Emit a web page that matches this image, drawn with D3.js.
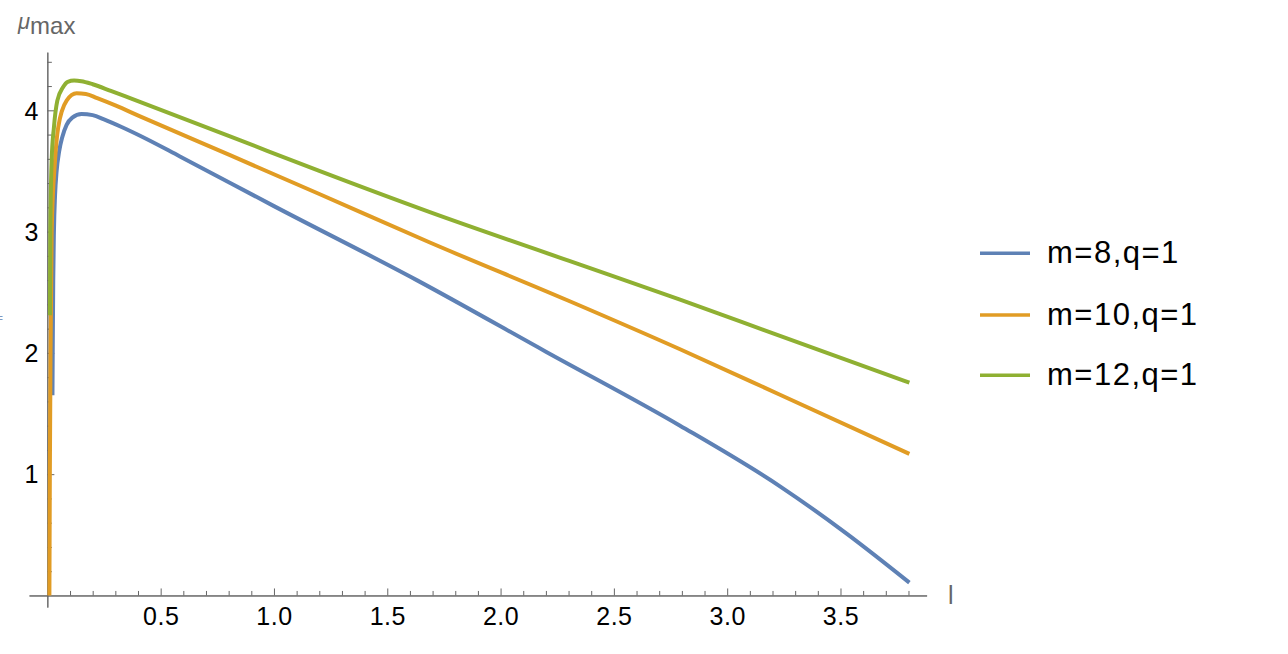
<!DOCTYPE html>
<html>
<head>
<meta charset="utf-8">
<script src="https://cdn.jsdelivr.net/npm/d3@7"></script>
<style>
  html, body { margin: 0; padding: 0; background: #fff; }
  svg { display: block; }
  text { font-family: "Liberation Sans", Arial, sans-serif; }
</style>
</head>
<body>
<svg id="chart" width="1288" height="654"></svg>
<script>
// ---- data ----
const seriesNames = ["m=8,q=1", "m=10,q=1", "m=12,q=1"];
const seriesColors = ["#5E81B5", "#E19C24", "#8FB032"];

const lM8  = [0.0225, 0.024, 0.026, 0.029, 0.034, 0.041, 0.052, 0.066, 0.085, 0.11, 0.151, 0.2, 0.25, 0.33, 0.409, 0.585, 1.0, 1.63, 2.2, 2.792, 3.233, 3.527, 3.804];
const muM8 = [1.65, 2.1, 2.6, 3.0, 3.3, 3.5, 3.66, 3.78, 3.88, 3.94, 3.97, 3.96, 3.925, 3.86, 3.79, 3.62, 3.21, 2.60, 2.01, 1.40, 0.90, 0.51, 0.106];

const lM10  = [0.009, 0.011, 0.014, 0.019, 0.034, 0.048, 0.085, 0.129, 0.17, 0.22, 0.3, 0.409, 0.806, 1.2, 1.688, 2.3, 2.792, 3.233, 3.804];
const muM10 = [0.0, 1.0, 2.0, 3.0, 3.59, 3.86, 4.08, 4.14, 4.135, 4.10, 4.04, 3.95, 3.63, 3.31, 2.91, 2.43, 2.03, 1.655, 1.167];

const lM12  = [0.0115, 0.013, 0.019, 0.029, 0.044, 0.069, 0.09, 0.118, 0.15, 0.2, 0.28, 0.365, 0.806, 1.2, 1.688, 2.3, 2.792, 3.233, 3.804];
const muM12 = [2.31, 3.0, 3.59, 3.86, 4.08, 4.19, 4.235, 4.245, 4.24, 4.215, 4.16, 4.10, 3.785, 3.50, 3.16, 2.76, 2.44, 2.14, 1.754];

const xTicks = [0.5, 1.0, 1.5, 2.0, 2.5, 3.0, 3.5];
const xTickLabels = ["0.5", "1.0", "1.5", "2.0", "2.5", "3.0", "3.5"];
const yTicks = [1, 2, 3, 4];
const yTickLabels = ["1", "2", "3", "4"];
const xMinor = d3.range(1, 39).map(i => i / 10).filter(v => Math.abs(v * 2 - Math.round(v * 2)) > 1e-6);
const yMinor = d3.range(1, 23).map(i => i / 5).filter(v => Math.abs(v - Math.round(v)) > 1e-6);

const xLabel = "l";
const yLabelMain = "μ";
const yLabelSub = "max";

// ---- layout ----
const svg = d3.select("#chart");
const x = d3.scaleLinear().domain([-0.081, 3.88]).range([29, 926.6]);
const y = d3.scaleLinear().domain([-0.096, 4.48]).range([607.1, 52.1]);
const axisColor = "#666";
const x0 = x(0), y0 = y(0);

// x axis
const gx = svg.append("g").attr("transform", `translate(0,${y0})`);
gx.call(d3.axisBottom(x).tickValues(xMinor).tickSizeInner(-4.5).tickSizeOuter(0).tickFormat(""));
const gxM = svg.append("g").attr("transform", `translate(0,${y0})`);
gxM.call(d3.axisBottom(x).tickValues(xTicks).tickSizeInner(-7).tickSizeOuter(0)
  .tickPadding(12).tickFormat((d, i) => xTickLabels[i]));

// y axis
const gy = svg.append("g").attr("transform", `translate(${x0},0)`);
gy.call(d3.axisLeft(y).tickValues(yMinor).tickSizeInner(-4.5).tickSizeOuter(0).tickFormat(""));
const gyM = svg.append("g").attr("transform", `translate(${x0},0)`);
gyM.call(d3.axisLeft(y).tickValues(yTicks).tickSizeInner(-7).tickSizeOuter(0)
  .tickPadding(8.5).tickFormat((d, i) => yTickLabels[i]));

svg.selectAll(".domain, .tick line").attr("stroke", axisColor).attr("stroke-width", 1);
svg.selectAll(".tick text")
  .attr("fill", "#000")
  .style("font-size", "25px")
  .style("font-family", "'Liberation Sans', Arial, sans-serif")
  .style("letter-spacing", "0.5px");
gyM.selectAll(".tick text").attr("dy", "0.35em");

// curves
const seriesData = [
  lM8.map((l, i) => [l, muM8[i]]),
  lM10.map((l, i) => [l, muM10[i]]),
  lM12.map((l, i) => [l, muM12[i]])
];
const line = d3.line().x(d => x(d[0])).y(d => y(d[1])).curve(d3.curveMonotoneX);
seriesData.forEach((data, i) => {
  svg.append("path")
    .datum(data)
    .attr("d", line)
    .attr("fill", "none")
    .attr("stroke", seriesColors[i])
    .attr("stroke-width", 4)
    .attr("stroke-linejoin", "round");
});

// axis labels
svg.append("text")
  .attr("x", 948).attr("y", 603.5)
  .attr("fill", axisColor)
  .style("font-size", "25px")
  .text(xLabel);

const yl = svg.append("text").attr("x", 18).attr("y", 29).attr("fill", axisColor);
yl.append("tspan").style("font-size", "22px").style("font-style", "italic").text(yLabelMain);
yl.append("tspan").attr("y", 34).style("font-size", "24px").style("letter-spacing", "0px").text(yLabelSub);

// small clipped glyph at the left edge (as in the reference)
svg.append("text").attr("x", -4).attr("y", 322).attr("fill", "#7f98c0")
  .style("font-size", "12px").text("=");

// legend
const legendY = [253.3, 315, 375.3];
seriesNames.forEach((name, i) => {
  svg.append("line")
    .attr("x1", 980).attr("x2", 1030)
    .attr("y1", legendY[i]).attr("y2", legendY[i])
    .attr("stroke", seriesColors[i]).attr("stroke-width", 3.5);
  svg.append("text")
    .attr("x", 1047).attr("y", legendY[i] + 10)
    .attr("fill", "#000")
    .style("font-size", "31px")
    .style("letter-spacing", "1.5px")
    .text(name);
});
</script>
</body>
</html>
